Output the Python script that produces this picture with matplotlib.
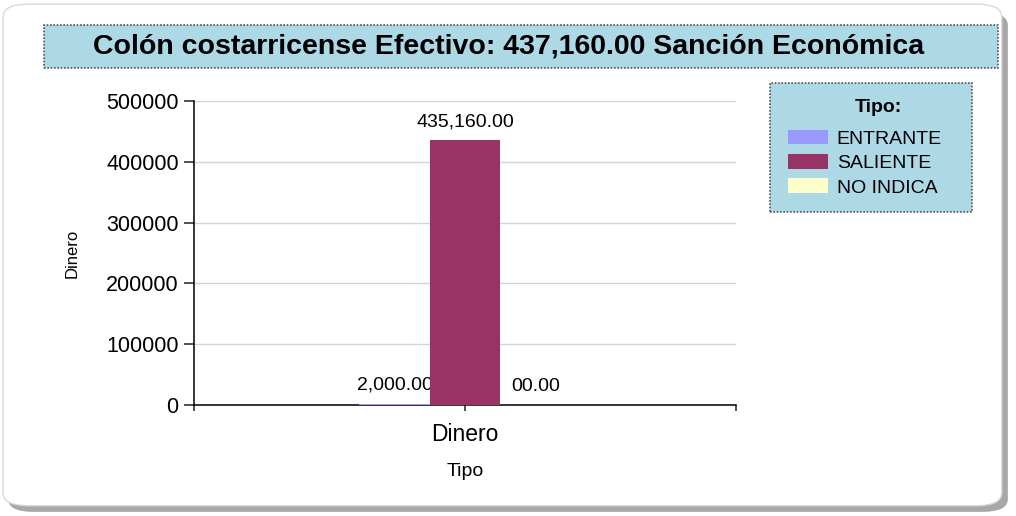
import matplotlib.pyplot as plt
from matplotlib.patches import FancyBboxPatch, Rectangle, Patch

plt.rcParams['font.family'] = ['Liberation Sans', 'DejaVu Sans']

# data
categories = ['Dinero']
series = ['ENTRANTE', 'SALIENTE', 'NO INDICA']
values = [2000, 435160, 0]
value_labels = ['2,000.00', '435,160.00', '00.00']
colors = ['#9999FF', '#993366', '#FFFFCC']
title = 'Colón costarricense Efectivo: 437,160.00 Sanción Económica'

fig = plt.figure(figsize=(10.16, 5.16), dpi=100)

# rounded card with shadow
shadow = FancyBboxPatch((0.008, 0.008), 0.984, 0.968, boxstyle='round,pad=0,rounding_size=0.025',
                        transform=fig.transFigure, facecolor='#a8a8a8', edgecolor='none', zorder=0)
card = FancyBboxPatch((0.003, 0.020), 0.983, 0.972, boxstyle='round,pad=0,rounding_size=0.025',
                      transform=fig.transFigure, facecolor='white', edgecolor='#d8d8d8', lw=1, zorder=1)
fig.patches.extend([shadow, card])

# title box
tb = Rectangle((44 / 1016, 1 - 68 / 516), (998 - 44) / 1016, 43 / 516, transform=fig.transFigure,
               facecolor='#ADD8E6', edgecolor='#555555', lw=1.2, ls=(0, (1, 1)), zorder=2)
fig.patches.append(tb)
fig.text(508.5 / 1016, 1 - 47 / 516, title, ha='center', va='center',
         fontsize=20.5, fontweight='bold', zorder=3)

ax = fig.add_axes([194 / 1016, 1 - 405 / 516, (736 - 194) / 1016, (405 - 101) / 516])
ax.set_zorder(3)
ax.patch.set_alpha(0)

w = 0.13
offsets = [-w, 0, w]
for i, s in enumerate(series):
    ax.bar(offsets[i], values[i], width=w, color=colors[i], label=s, zorder=3)
    ax.text(offsets[i], values[i] + 17000, value_labels[i], ha='center', va='bottom', fontsize=14)

ax.set_xlim(-0.5, 0.5)
ax.set_ylim(0, 500000)
ax.set_yticks([0, 100000, 200000, 300000, 400000, 500000])
ax.set_yticklabels(['0', '100000', '200000', '300000', '400000', '500000'], fontsize=15.5)
ax.set_xticks([-0.5, 0, 0.5])
ax.set_xticklabels(['', 'Dinero', ''], fontsize=16.5)
ax.tick_params(axis='y', length=7, width=1.1, color='#222222', pad=4)
ax.tick_params(axis='x', length=4, width=1.1, color='#222222', pad=9)
ax.yaxis.grid(True, color='#d4d4d4', lw=1, zorder=0)
for sp in ['top', 'right']:
    ax.spines[sp].set_visible(False)
ax.spines['left'].set_linewidth(1.1)
ax.spines['bottom'].set_linewidth(1.1)
ax.set_ylabel('Dinero', fontsize=12, labelpad=19)
ax.set_xlabel('Tipo', fontsize=14, labelpad=12)

# legend
lb = Rectangle((770 / 1016, 1 - 212 / 516), (972 - 770) / 1016, (212 - 83) / 516, transform=fig.transFigure,
               facecolor='#ADD8E6', edgecolor='#555555', lw=1.2, ls=(0, (1, 1)), zorder=2)
fig.patches.append(lb)
fig.text(878 / 1016, 1 - 108 / 516, 'Tipo:', ha='center', va='center', fontsize=14, fontweight='bold', zorder=3)
handles = [Patch(facecolor=c, edgecolor='none') for c in colors]
leg = fig.legend(handles, series, loc='upper left', bbox_to_anchor=(788 / 1016, 1 - 130 / 516),
                 frameon=False, fontsize=14,
                 handlelength=2.05, handleheight=0.77, handletextpad=0.46, labelspacing=0.32, borderpad=0,
                 borderaxespad=0)

fig.savefig('out.png', dpi=100)
